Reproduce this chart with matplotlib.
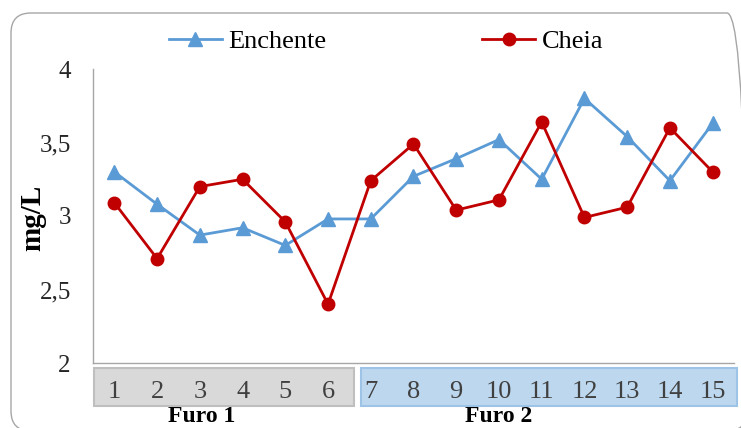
import matplotlib
matplotlib.use("Agg")
import matplotlib.pyplot as plt
import matplotlib.transforms as mtransforms
from matplotlib.patches import Rectangle, FancyBboxPatch
from matplotlib.ticker import FuncFormatter

plt.rcParams["font.family"] = ["Liberation Serif", "DejaVu Serif"]

# Data
amostras = list(range(1, 16))
enchente = [3.30, 3.08, 2.87, 2.92, 2.80, 2.98, 2.98, 3.27, 3.39, 3.52, 3.25, 3.80, 3.54, 3.24, 3.63]
cheia = [3.09, 2.71, 3.20, 3.25, 2.96, 2.40, 3.24, 3.49, 3.04, 3.11, 3.64, 2.99, 3.06, 3.60, 3.30]
grupos = ["Furo 1", "Furo 2"]

azul = "#5B9BD5"
vermelho = "#C00000"

# where the group names sit along the category axis
pos_grupo = [3.05, 10.0]

fig = plt.figure(figsize=(7.41, 4.28), dpi=100)

# rounded chart-area border (inches)
borda = FancyBboxPatch((0.11, -0.03), 7.36, 4.18,
                       boxstyle="round,pad=0,rounding_size=0.2",
                       transform=fig.dpi_scale_trans, fill=False,
                       edgecolor="#A6A6A6", linewidth=1.0)
fig.patches.append(borda)

ax = fig.add_axes([93 / 741, 1 - 363 / 428, 641 / 741, 294 / 428])

l1, = ax.plot(amostras, enchente, color=azul, lw=2.0, marker="^", ms=10,
              label="Enchente")
l2, = ax.plot(amostras, cheia, color=vermelho, lw=2.0, marker="o", ms=9,
              label="Cheia")

ax.set_xlim(0.5, 15.5)
ax.set_ylim(2, 4)
ax.set_yticks([2, 2.5, 3, 3.5, 4])
ax.yaxis.set_major_formatter(FuncFormatter(lambda v, p: f"{v:g}".replace(".", ",")))
ax.tick_params(axis="y", length=0, pad=16, labelsize=18, labelcolor="#262626")
ax.set_xticks([])

for s in ["top", "right"]:
    ax.spines[s].set_visible(False)
for s in ["left", "bottom"]:
    ax.spines[s].set_color("#A6A6A6")
    ax.spines[s].set_linewidth(1.0)

# category boxes under the axis
trans = mtransforms.blended_transform_factory(ax.transData, ax.transAxes)
caixas = [((0.52, 6.61), "#D9D9D9", "#BFBFBF"), ((6.77, 15.57), "#BDD7EE", "#9DC3E6")]
for (x0, x1), cor, borda_cor in caixas:
    ax.add_patch(Rectangle((x0, -0.146), x1 - x0, 0.129, transform=trans,
                           facecolor=cor, edgecolor=borda_cor, lw=1.5, clip_on=False))

for a in amostras:
    ax.text(a, -0.097, str(a), transform=trans, ha="center", va="center",
            fontsize=19, color="#404040")

trans_fig = mtransforms.blended_transform_factory(ax.transData, fig.transFigure)
for nome, xg in zip(grupos, pos_grupo):
    ax.text(xg, 6 / 428, nome, transform=trans_fig, ha="center",
            va="baseline", fontsize=17, fontweight="bold")

fig.text(33 / 741, 1 - 218 / 428, "mg/L", rotation=90, ha="center", va="center",
         fontsize=21, fontweight="bold")

fig.legend(handles=[l1, l2], loc="center", bbox_to_anchor=(386 / 741, 1 - 41 / 428),
           ncol=2, frameon=False, fontsize=19, handlelength=2.0,
           handletextpad=0.25, columnspacing=5.9)

fig.savefig("out.png", dpi=100)
